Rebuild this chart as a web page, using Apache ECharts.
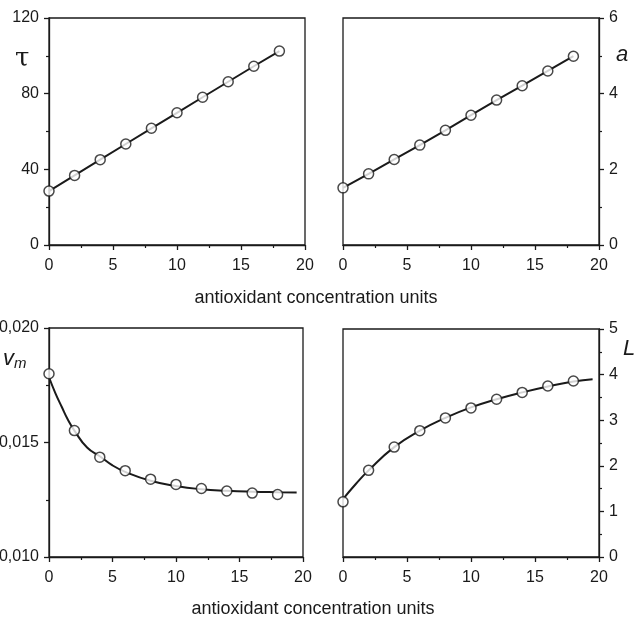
<!DOCTYPE html>
<html>
<head>
<meta charset="utf-8">
<script src="https://cdn.jsdelivr.net/npm/echarts@6/dist/echarts.min.js"></script>
<style>
  html, body { margin: 0; padding: 0; background: #fff; }
  #main { width: 635px; height: 620px; }
</style>
</head>
<body>
<div id="main"></div>
<script>
// antioxidant concentration (shared x values)
var conc = [0, 2, 4, 6, 8, 10, 12, 14, 16, 18];

// measured points
var tauVals = [28.5, 36.8, 45.1, 53.4, 61.7, 69.9, 78.1, 86.3, 94.5, 102.5];
var aVals = [1.51, 1.88, 2.26, 2.64, 3.03, 3.43, 3.83, 4.21, 4.60, 4.99];
var vmVals = [0.0180, 0.01552, 0.01436, 0.01377, 0.01340, 0.01317, 0.01299, 0.01288, 0.01279, 0.01273];
var lVals = [1.21, 1.90, 2.41, 2.77, 3.05, 3.27, 3.46, 3.61, 3.75, 3.86];

// fitted curves (bottom panels)
var vmFitX = [0, 0.5, 1, 1.5, 2, 3, 4, 5, 6, 8, 10, 12, 14, 16, 18, 19.5];
var vmFitY = [0.01785, 0.01716, 0.01656, 0.01598, 0.01552, 0.01478, 0.01440, 0.01400, 0.01372, 0.01333, 0.01310, 0.01296, 0.01289, 0.01285, 0.01283, 0.01282];
var lFitX = [0, 1, 2, 4, 6, 8, 10, 12, 14, 16, 18, 19.5];
var lFitY = [1.27, 1.60, 1.90, 2.41, 2.77, 3.05, 3.28, 3.46, 3.61, 3.74, 3.85, 3.90];

// tick labels
var xTicks = [0, 5, 10, 15, 20];

function pairs(xs, ys) {
  return xs.map(function (x, i) { return [x, ys[i]]; });
}

var chart = echarts.init(document.getElementById("main"));

var ink = "#1a1a1a";
var labelFont = { color: ink, fontSize: 16, fontFamily: "Liberation Sans, Arial, sans-serif" };

function xAxis(gridIndex) {
  return {
    type: "value",
    gridIndex: gridIndex,
    min: xTicks[0],
    max: xTicks[xTicks.length - 1],
    interval: 5,
    axisLine: { show: true, onZero: false, lineStyle: { color: ink, width: 1.3 } },
    axisTick: { show: true, length: 5, lineStyle: { color: ink, width: 1.3 } },
    minorTick: { show: true, splitNumber: 2, length: 3, lineStyle: { color: ink, width: 1.2 } },
    splitLine: { show: false },
    axisLabel: Object.assign({ margin: 13 }, labelFont),
  };
}

function yAxis(gridIndex, pos, min, max, interval, fmt) {
  return {
    type: "value",
    gridIndex: gridIndex,
    position: pos,
    min: min,
    max: max,
    interval: interval,
    axisLine: { show: true, onZero: false, lineStyle: { color: ink, width: 1.3 } },
    axisTick: { show: true, length: 5, lineStyle: { color: ink, width: 1.3 } },
    minorTick: { show: true, splitNumber: 2, length: 3, lineStyle: { color: ink, width: 1.2 } },
    splitLine: { show: false },
    axisLabel: Object.assign({ margin: 10, formatter: fmt }, labelFont),
  };
}

function pts(i, data) {
  return {
    type: "scatter",
    xAxisIndex: i,
    yAxisIndex: i,
    data: data,
    symbol: "circle",
    symbolSize: 10,
    itemStyle: { color: "#fff", borderColor: ink, borderWidth: 1.5 },
    z: 3,
  };
}

function curve(i, data, smooth) {
  return {
    type: "line",
    xAxisIndex: i,
    yAxisIndex: i,
    data: data,
    smooth: smooth,
    showSymbol: false,
    lineStyle: { color: ink, width: 2 },
    z: 2,
  };
}

// framed box, labels allowed to run off the page edge
var gridBox = {
  show: true,
  borderColor: ink,
  borderWidth: 1.3,
  backgroundColor: "transparent",
  containLabel: false,
  outerBoundsMode: "none",
};

var option = {
  backgroundColor: "#fff",
  animation: false,
  grid: [
    Object.assign({ left: 49, top: 18, width: 256, height: 227 }, gridBox),
    Object.assign({ left: 343, top: 18, width: 256, height: 227 }, gridBox),
    Object.assign({ left: 49, top: 328, width: 254, height: 229 }, gridBox),
    Object.assign({ left: 343, top: 329, width: 256, height: 228 }, gridBox),
  ],
  xAxis: [xAxis(0), xAxis(1), xAxis(2), xAxis(3)],
  yAxis: [
    yAxis(0, "left", 0, 120, 40),
    yAxis(1, "right", 0, 6, 2),
    yAxis(2, "left", 0.01, 0.02, 0.005, function (v) {
      return v.toFixed(3).replace(".", ",");
    }),
    yAxis(3, "right", 0, 5, 1),
  ],
  series: [
    curve(0, pairs(conc, tauVals), false),
    pts(0, pairs(conc, tauVals)),
    curve(1, pairs(conc, aVals), false),
    pts(1, pairs(conc, aVals)),
    curve(2, pairs(vmFitX, vmFitY), true),
    pts(2, pairs(conc, vmVals)),
    curve(3, pairs(lFitX, lFitY), true),
    pts(3, pairs(conc, lVals)),
  ],
  graphic: [
    {
      type: "text", left: 15, top: 46,
      style: { text: "τ", fontSize: 26, fontFamily: "DejaVu Serif, serif", fill: ink },
    },
    {
      type: "text", left: 616, top: 44,
      style: { text: "a", fontSize: 22, fontStyle: "italic", fontFamily: "Liberation Sans, Arial", fill: ink },
    },
    {
      type: "text", left: 3, top: 348,
      style: {
        text: "{v|v}{m|m}",
        fill: ink,
        rich: {
          v: { fontSize: 22, fontStyle: "italic", fontFamily: "Liberation Sans, Arial", fill: ink },
          m: { fontSize: 15, fontStyle: "italic", fontFamily: "Liberation Sans, Arial", fill: ink, padding: [10, 0, 0, 0] },
        },
      },
    },
    {
      type: "text", left: 623, top: 338,
      style: { text: "L", fontSize: 22, fontStyle: "italic", fontFamily: "Liberation Sans, Arial", fill: ink },
    },
    {
      type: "text", x: 316, y: 298,
      style: { text: "antioxidant concentration units", fontSize: 18, fontFamily: "Liberation Sans, Arial", fill: ink, align: "center", verticalAlign: "middle" },
    },
    {
      type: "text", x: 313, y: 609,
      style: { text: "antioxidant concentration units", fontSize: 18, fontFamily: "Liberation Sans, Arial", fill: ink, align: "center", verticalAlign: "middle" },
    },
  ],
};

chart.setOption(option);
</script>
</body>
</html>
